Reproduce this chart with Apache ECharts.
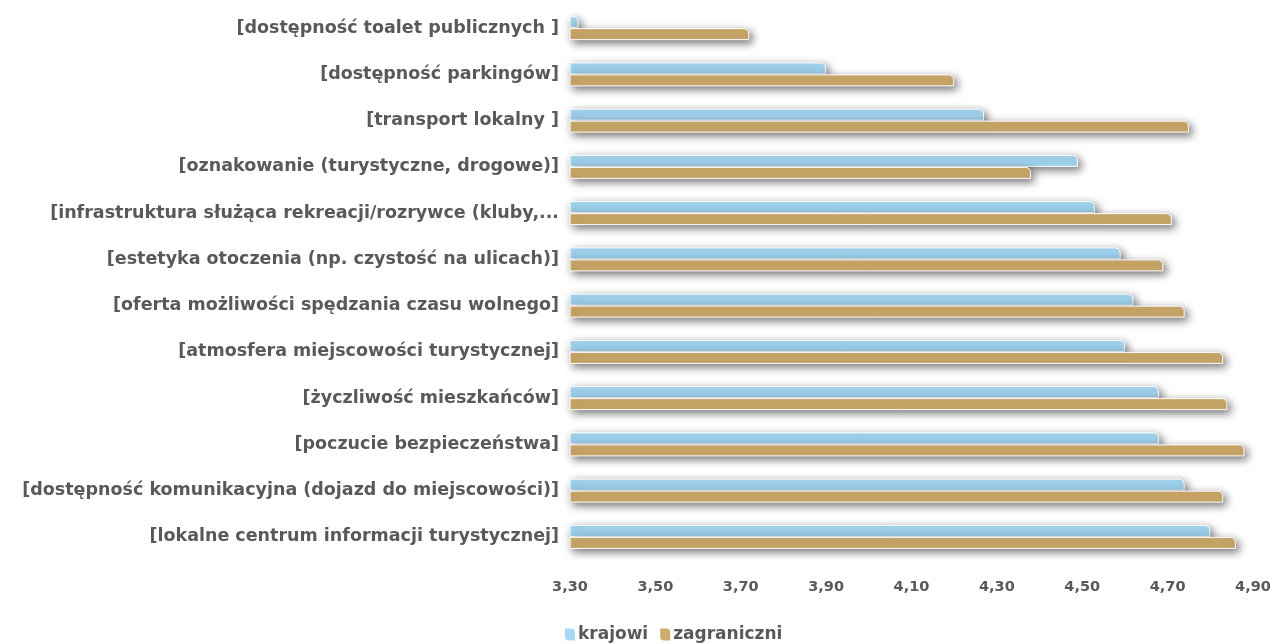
<!DOCTYPE html>
<html>
<head>
<meta charset="utf-8">
<script src="https://cdn.jsdelivr.net/npm/echarts@6/dist/echarts.min.js"></script>
<style>
  html, body { margin: 0; padding: 0; background: #fff; }
  #chart { width: 1277px; height: 644px; }
</style>
</head>
<body>
<div id="chart"></div>
<script>
// kategorie od góry do dołu
const categories = [
  '[dostępność toalet publicznych ]',
  '[dostępność parkingów]',
  '[transport lokalny ]',
  '[oznakowanie (turystyczne, drogowe)]',
  '[infrastruktura służąca rekreacji/rozrywce (kluby,...',
  '[estetyka otoczenia (np. czystość na ulicach)]',
  '[oferta możliwości spędzania czasu wolnego]',
  '[atmosfera miejscowości turystycznej]',
  '[życzliwość mieszkańców]',
  '[poczucie bezpieczeństwa]',
  '[dostępność komunikacyjna (dojazd do miejscowości)]',
  '[lokalne centrum informacji turystycznej]'
]
const krajowi = [3.32, 3.90, 4.27, 4.49, 4.53, 4.59, 4.62, 4.60, 4.68, 4.68, 4.74, 4.80]
const zagraniczni = [3.72, 4.20, 4.75, 4.38, 4.71, 4.69, 4.74, 4.83, 4.84, 4.88, 4.83, 4.86]
const axisMin = 3.3
const axisMax = 4.9

const textColor = '#595959'
const font = 'DejaVu Sans'

function barSeries (name, data, color) {
  return {
    name: name,
    type: 'bar',
    data: data,
    barWidth: 12,
    barGap: '0%',
    itemStyle: {
      color: color,
      borderColor: '#fff',
      borderWidth: 1,
      borderRadius: [0, 5, 0, 0],
      shadowColor: 'rgba(0, 0, 0, 0.55)',
      shadowBlur: 8,
      shadowOffsetX: 3,
      shadowOffsetY: 3
    }
  }
}

const option = {
  animation: false,
  backgroundColor: '#fff',
  grid: {
    left: 570,
    right: 24,
    top: 5,
    bottom: 84
  },
  xAxis: {
    type: 'value',
    min: axisMin,
    max: axisMax,
    interval: 0.1,
    axisLine: { show: false },
    axisTick: { show: false },
    splitLine: { show: false },
    axisLabel: {
      margin: 20,
      color: textColor,
      fontFamily: font,
      fontWeight: 'bold',
      fontSize: 14.5,
      // co druga kreska ma etykietę (krok 0,20)
      formatter: v => Math.round((v - axisMin) * 10) % 2 === 0 ? v.toFixed(2).replace('.', ',') : ''
    }
  },
  yAxis: {
    type: 'category',
    data: categories,
    inverse: true,
    axisLine: { show: false },
    axisTick: { show: false },
    axisLabel: {
      margin: 11,
      color: textColor,
      fontFamily: font,
      fontWeight: 'bold',
      fontSize: 17.5
    }
  },
  legend: {
    top: 621,
    left: 560,
    icon: 'path://M0,0 L6,0 Q10,0 10,4 L10,12 L4,12 Q0,12 0,8 Z',
    itemWidth: 10,
    itemHeight: 12,
    itemGap: 12,
    itemStyle: {
      borderWidth: 0,
      shadowBlur: 0,
      shadowOffsetX: 0,
      shadowOffsetY: 0
    },
    textStyle: {
      color: textColor,
      fontFamily: font,
      fontWeight: 'bold',
      fontSize: 17,
      padding: [0, 0, 0, -2]
    }
  },
  series: [
    barSeries('krajowi', krajowi, '#A5DAF6'),
    barSeries('zagraniczni', zagraniczni, '#CFAB6A')
  ]
}

const myChart = echarts.init(document.getElementById('chart'))
myChart.setOption(option)
</script>
</body>
</html>
